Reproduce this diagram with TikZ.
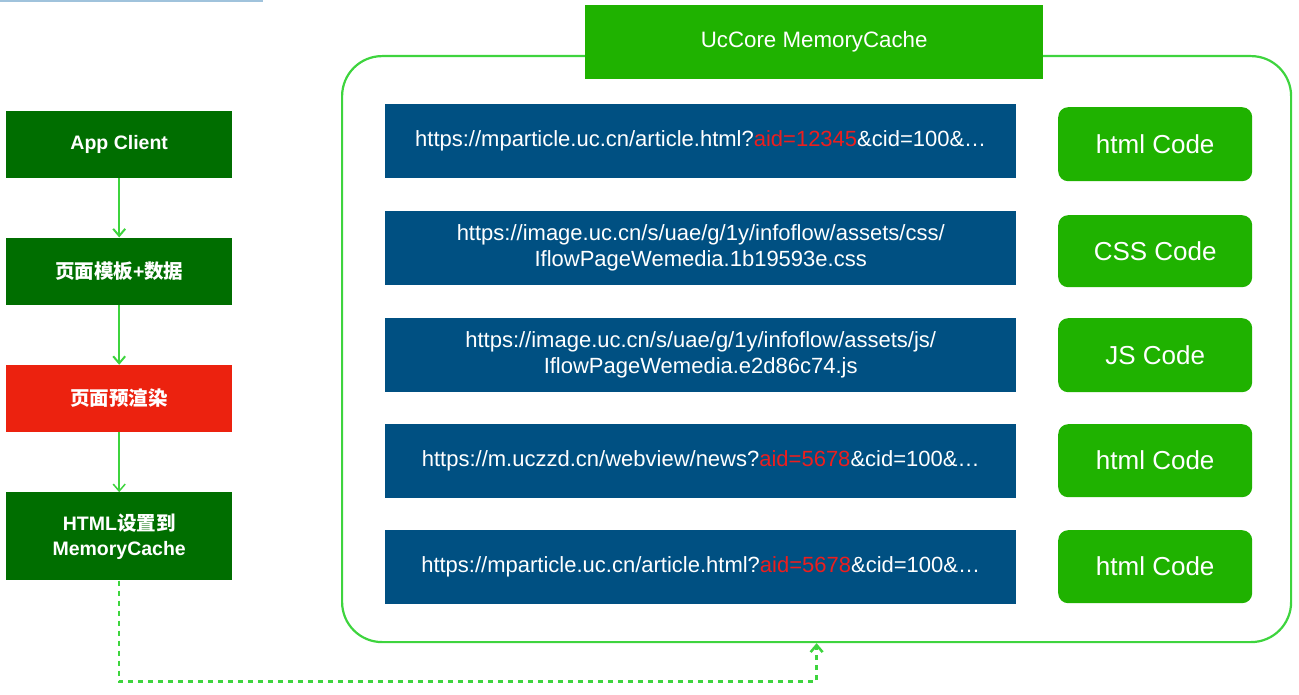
\documentclass[tikz,border=0pt]{standalone}
\usepackage{fontspec}
\setmainfont{Liberation Sans}
\newfontfamily\cjk{Noto Sans CJK SC}
\usepackage{tikz}
\usetikzlibrary{arrows.meta,positioning}
\definecolor{mydarkgreen}{RGB}{0,110,0}
\definecolor{mygreen}{RGB}{31,178,0}
\definecolor{mylinegreen}{RGB}{62,212,62}
\definecolor{myred}{RGB}{236,34,15}
\definecolor{myblue}{RGB}{0,80,130}
\definecolor{myaid}{RGB}{236,30,30}
\definecolor{mystrip}{RGB}{160,195,220}
\tikzstyle{stepbox}=[fill=mydarkgreen,text=white,minimum width=226pt,minimum height=67pt,inner sep=0pt,align=center,font=\fontsize{19.5}{25}\selectfont\bfseries]
\tikzstyle{urlbox}=[fill=myblue,text=white,minimum width=631pt,minimum height=74pt,inner sep=0pt,align=center,anchor=north west,font=\fontsize{22}{26}\selectfont]
\tikzstyle{codebox}=[fill=mygreen,text=white,rounded corners=10pt,minimum width=194pt,minimum height=74pt,inner sep=0pt,anchor=north west,font=\fontsize{26}{30}\selectfont]
\newcommand{\aid}[1]{\textcolor{myaid}{#1}}

\begin{document}
\begin{tikzpicture}[x=1pt,y=-1pt,flow/.style={draw=mylinegreen,line width=2pt,-{Straight Barb[length=7pt,width=12pt]}}]
\useasboundingbox (0,0) rectangle (1299,695);
\fill[mystrip] (0,0) rectangle (263,2);

% left column
\node [stepbox,anchor=north west] (n1) at (6,111) {App Client};
\node [stepbox] [below=59pt of n1] (n2) {{\cjk\bfseries 页面模板}+{\cjk\bfseries 数据}};
\node [stepbox,fill=myred] [below=60pt of n2] (n3) {{\cjk\bfseries 页面预渲染}};
\node [stepbox,minimum height=88pt] [below=60pt of n3] (n4) {HTML{\cjk\bfseries 设置到}\\MemoryCache};

\draw [flow] (n1) -- (n2);
\draw [flow] (n2) -- (n3);
\draw [flow,line width=1.5pt] (n3) -- (n4);

% memory cache
\node [draw=mylinegreen,line width=2.2pt,rounded corners=40pt,minimum width=949pt,minimum height=586pt,anchor=north west] (cache) at (341,55) {};
\node [fill=mygreen,text=white,minimum width=458pt,minimum height=74pt,inner sep=0pt,anchor=north west,font=\fontsize{22.3}{26}\selectfont] (title) at (585,5) {UcCore MemoryCache};

\node [urlbox] (u1) at (385,104) {https://mparticle.uc.cn/article.html?\aid{aid=12345}\&cid=100\&…};
\node [urlbox] (u2) at (385,211) {https://image.uc.cn/s/uae/g/1y/infoflow/assets/css/\\IflowPageWemedia.1b19593e.css};
\node [urlbox] (u3) at (385,318) {https://image.uc.cn/s/uae/g/1y/infoflow/assets/js/\\IflowPageWemedia.e2d86c74.js};
\node [urlbox] (u4) at (385,424) {https://m.uczzd.cn/webview/news?\aid{aid=5678}\&cid=100\&…};
\node [urlbox] (u5) at (385,530) {https://mparticle.uc.cn/article.html?\aid{aid=5678}\&cid=100\&…};

\node [codebox] (c1) at (1058,107) {html Code};
\node [codebox,minimum height=72pt] (c2) at (1058,215) {CSS Code};
\node [codebox] (c3) at (1058,318) {JS Code};
\node [codebox,minimum height=73pt] (c4) at (1058,424) {html Code};
\node [codebox,minimum height=73pt] (c5) at (1058,530) {html Code};

\draw [flow,dash pattern=on 5pt off 5pt,line width=2.5pt] (n4.south) -- ++(0,101) -| (cache.south);
\end{tikzpicture}
\end{document}
